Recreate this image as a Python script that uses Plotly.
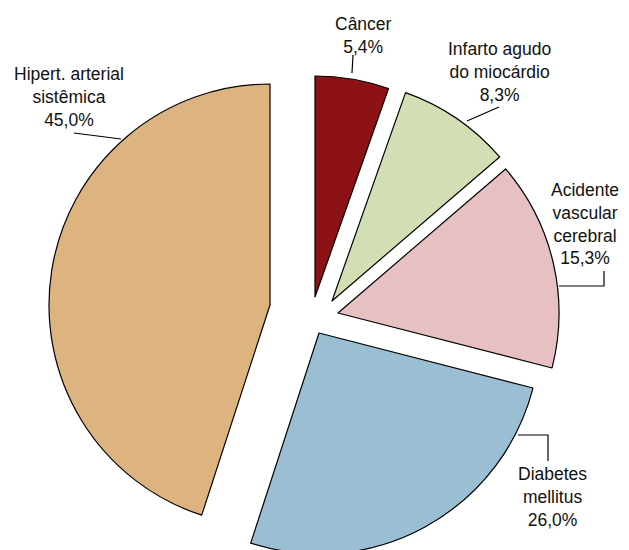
import plotly.graph_objects as go

# ---------------- data ----------------
categories = ["Câncer", "Infarto agudo do miocárdio", "Acidente vascular cerebral",
              "Diabetes mellitus", "Hipert. arterial sistêmica"]
label_lines = ["Câncer", "Infarto agudo<br>do miocárdio", "Acidente<br>vascular<br>cerebral",
               "Diabetes<br>mellitus", "Hipert. arterial<br>sistêmica"]
percentages = [5.4, 8.3, 15.3, 26.0, 45.0]
colors = ["#8C1216", "#D2DEB4", "#E7C0C3", "#9ABED2", "#DDB37F"]

# ---------------- layout constants (window pixels) ----------------
W, H = 629, 550
OFF = 8  # default page body margin
R = 221
# apex (exploded centre) of each slice
apex = [(315, 297), (332, 301), (338, 313), (319, 333), (270, 305)]
# label centres
label_pos = [(363, 36), (499, 72), (585, 224), (552, 497), (69, 97)]
# leader lines
leaders = [
    [(353, 55), (352, 73)],
    [(499, 107), (467, 121)],
    [(559, 286), (604, 286), (604, 271)],
    [(518, 435), (548, 435), (548, 461)],
    [(74, 133), (121, 139)],
]

def px(x):
    return (x - OFF) / W

def py(y):
    return 1 - (y - OFF) / H

def clamp(v):
    return min(1.0, max(0.0, v))

fig = go.Figure()
n = len(percentages)
for i in range(n):
    cx, cy = apex[i]
    cols = ["rgba(0,0,0,0)"] * n
    cols[i] = colors[i]
    lw = [0] * n
    lw[i] = 1.2
    fig.add_trace(go.Pie(
        labels=categories,
        values=percentages,
        sort=False,
        direction="clockwise",
        rotation=0,
        textinfo="none",
        hoverinfo="label+percent",
        showlegend=False,
        marker=dict(colors=cols, line=dict(color="#000000", width=lw)),
        domain=dict(x=[clamp(px(cx - R)), clamp(px(cx + R))],
                    y=[clamp(py(cy + R)), clamp(py(cy - R))]),
    ))

annotations = []
for i in range(n):
    lx, ly = label_pos[i]
    pct = f"{percentages[i]:.1f}".replace(".", ",")
    txt = f"{label_lines[i]}<br>{pct}%"
    annotations.append(dict(
        x=px(lx), y=py(ly), xref="paper", yref="paper",
        xanchor="center", yanchor="middle", align="center",
        text=txt, showarrow=False,
        font=dict(family="Liberation Sans, Arial, sans-serif", size=17.5, color="#111111"),
    ))

shapes = []
for pts in leaders:
    path = "M " + " L ".join(f"{px(x):.5f},{py(y):.5f}" for x, y in pts)
    shapes.append(dict(type="path", path=path, xref="paper", yref="paper",
                       line=dict(color="#000000", width=1.2)))

fig.update_layout(
    width=W, height=H,
    margin=dict(l=0, r=0, t=0, b=0),
    paper_bgcolor="white", plot_bgcolor="white",
    annotations=annotations, shapes=shapes,
)

fig.write_html("out.html")
